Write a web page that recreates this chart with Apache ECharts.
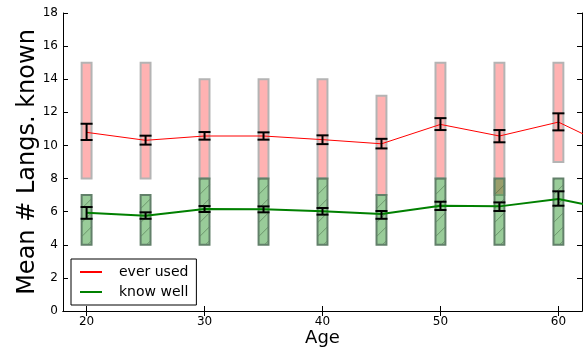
<!DOCTYPE html>
<html>
<head>
<meta charset="utf-8">
<script src="https://cdn.jsdelivr.net/npm/echarts@6/dist/echarts.min.js"></script>
<style>
html, body { margin: 0; padding: 0; background: #fff; }
#chart { width: 587px; height: 350px; }
</style>
</head>
<body>
<div id="chart"></div>
<script>
// age groups (boxes + error bars)
var ages = [20, 25, 30, 35, 40, 45, 50, 55, 60]
// the lines run on past the right edge of the plot
var lineAges = [20, 25, 30, 35, 40, 45, 50, 55, 60, 65]

// ever used
var everUsed = [10.79, 10.31, 10.57, 10.57, 10.35, 10.10, 11.27, 10.57, 11.41, 9.7]
var everErrLo = [10.33, 10.05, 10.35, 10.35, 10.08, 9.82, 10.93, 10.19, 10.91]
var everErrHi = [11.31, 10.59, 10.81, 10.79, 10.61, 10.40, 11.65, 10.93, 11.94]
var everRangeLo = [8, 8, 8, 8, 8, 7, 8, 7, 9]
var everRangeHi = [15, 15, 14, 14, 14, 13, 15, 15, 15]

// know well
var knowWell = [5.94, 5.76, 6.16, 6.14, 6.02, 5.86, 6.36, 6.32, 6.76, 6.04]
var knowErrLo = [5.57, 5.57, 5.98, 5.96, 5.82, 5.57, 6.10, 6.04, 6.36]
var knowErrHi = [6.28, 5.96, 6.34, 6.32, 6.22, 6.04, 6.60, 6.56, 7.23]
var wellRangeLo = [4, 4, 4, 4, 4, 4, 4, 4, 4]
var wellRangeHi = [7, 7, 8, 8, 8, 7, 8, 8, 8]

var xTicks = [20, 30, 40, 50, 60]
var FONT = 'DejaVu Sans'

var chart = echarts.init(document.getElementById('chart'))

function rows(xs, a, b) {
    return xs.map(function (x, i) { return [x, a[i], b[i]] })
}

// box from lo to hi, centred on the age
function boxRect(api) {
    var p1 = api.coord([api.value(0) - 0.42, api.value(2)])
    var p2 = api.coord([api.value(0) + 0.42, api.value(1)])
    return { x: p1[0], y: p1[1], w: p2[0] - p1[0], h: p2[1] - p1[1] }
}

function renderPink(params, api) {
    var r = boxRect(api)
    return {
        type: 'rect',
        shape: { x: r.x, y: r.y, width: r.w, height: r.h },
        style: { fill: 'rgba(255,0,0,0.3)', stroke: '#b4b4b4', lineWidth: 2 }
    }
}

function renderGreen(params, api) {
    var r = boxRect(api)
    var children = [{
        type: 'rect',
        shape: { x: r.x, y: r.y, width: r.w, height: r.h },
        style: { fill: 'rgba(0,128,0,0.4)', stroke: 'none' }
    }]
    // "/" hatching, clipped by hand to the box
    var step = 14
    var yb = r.y + r.h
    for (var k = -r.w + 4; k < r.h; k += step) {
        var t0 = Math.max(0, -k)
        var t1 = Math.min(r.w, r.h - k)
        if (t1 <= t0) continue
        children.push({
            type: 'line',
            shape: { x1: r.x + t0, y1: yb - k - t0, x2: r.x + t1, y2: yb - k - t1 },
            style: { stroke: 'rgba(40,70,40,0.5)', lineWidth: 0.8 }
        })
    }
    children.push({
        type: 'rect',
        shape: { x: r.x, y: r.y, width: r.w, height: r.h },
        style: { fill: 'none', stroke: '#62806a', lineWidth: 2 }
    })
    return { type: 'group', children: children }
}

function renderErr(params, api) {
    var top = api.coord([api.value(0), api.value(2)])
    var bot = api.coord([api.value(0), api.value(1)])
    var cap = 6
    var st = { stroke: '#000', lineWidth: 2 }
    return {
        type: 'group',
        children: [
            { type: 'line', shape: { x1: top[0], y1: top[1], x2: bot[0], y2: bot[1] }, style: st },
            { type: 'line', shape: { x1: top[0] - cap, y1: top[1], x2: top[0] + cap, y2: top[1] }, style: st },
            { type: 'line', shape: { x1: bot[0] - cap, y1: bot[1], x2: bot[0] + cap, y2: bot[1] }, style: st }
        ]
    }
}

var axisLine = { show: true, lineStyle: { color: '#000', width: 1 } }

chart.setOption({
    animation: false,
    textStyle: { fontFamily: FONT },
    grid: { left: 63, right: 5, top: 13, bottom: 39, outerBoundsMode: 'none' },
    legend: {
        data: ['ever used', 'know well'],
        orient: 'vertical',
        left: 71,
        top: 259,
        padding: [6, 8, 6, 8],
        itemGap: 6,
        itemWidth: 22,
        itemHeight: 14,
        borderColor: '#000',
        borderWidth: 1,
        borderRadius: 0,
        itemStyle: { opacity: 0 },
        textStyle: { fontFamily: FONT, fontSize: 14, color: '#000', padding: [0, 0, 0, 12] }
    },
    xAxis: [
        {
            type: 'value', min: 18, max: 62,
            name: 'Age', nameLocation: 'middle', nameGap: 18, nameMoveOverlap: false,
            nameTextStyle: { fontFamily: FONT, fontSize: 18, color: '#000' },
            axisLine: axisLine,
            axisTick: { inside: true, length: 5, lineStyle: { color: '#000' }, customValues: xTicks },
            axisLabel: { color: '#000', fontSize: 12, margin: 5, customValues: xTicks },
            splitLine: { show: false }
        },
        {
            type: 'value', min: 18, max: 62, position: 'top',
            axisLine: axisLine,
            axisTick: { inside: true, length: 5, lineStyle: { color: '#000' }, customValues: xTicks },
            axisLabel: { show: false },
            splitLine: { show: false }
        }
    ],
    yAxis: [
        {
            type: 'value', min: 0, max: 18, interval: 2,
            name: 'Mean # Langs. known', nameLocation: 'middle', nameGap: 23, nameMoveOverlap: false,
            nameTextStyle: { fontFamily: FONT, fontSize: 24, color: '#000' },
            axisLine: axisLine,
            axisTick: { inside: true, length: 5, lineStyle: { color: '#000' } },
            axisLabel: { color: '#000', fontSize: 12, margin: 5 },
            splitLine: { show: false }
        },
        {
            type: 'value', min: 0, max: 18, interval: 2, position: 'right',
            axisLine: axisLine,
            axisTick: { inside: true, length: 5, lineStyle: { color: '#000' } },
            axisLabel: { show: false },
            splitLine: { show: false }
        }
    ],
    series: [
        {
            name: 'ever range', type: 'custom', renderItem: renderPink,
            encode: { x: 0, y: [1, 2] }, data: rows(ages, everRangeLo, everRangeHi), z: 1
        },
        {
            name: 'well range', type: 'custom', renderItem: renderGreen,
            encode: { x: 0, y: [1, 2] }, data: rows(ages, wellRangeLo, wellRangeHi), z: 1
        },
        {
            name: 'ever used', type: 'line', symbol: 'none', clip: true, z: 3,
            color: '#ff0000', lineStyle: { color: '#ff0000', width: 1 },
            data: lineAges.map(function (a, i) { return [a, everUsed[i]] })
        },
        {
            name: 'know well', type: 'line', symbol: 'none', clip: true, z: 3,
            color: '#008000', lineStyle: { color: '#008000', width: 2 },
            data: lineAges.map(function (a, i) { return [a, knowWell[i]] })
        },
        {
            name: 'ever err', type: 'custom', renderItem: renderErr, z: 4,
            encode: { x: 0, y: [1, 2] }, data: rows(ages, everErrLo, everErrHi)
        },
        {
            name: 'well err', type: 'custom', renderItem: renderErr, z: 4,
            encode: { x: 0, y: [1, 2] }, data: rows(ages, knowErrLo, knowErrHi)
        }
    ]
})
</script>
</body>
</html>
